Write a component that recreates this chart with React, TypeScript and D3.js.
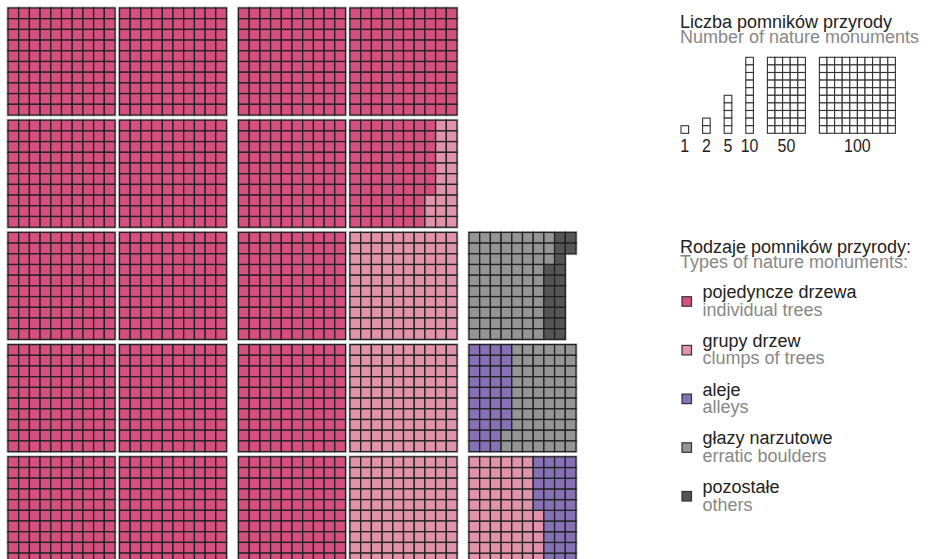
import React, { useEffect, useRef } from "react";
import * as d3 from "d3";

// monument types (PL / EN), counts and colours
const typesPl = ["pojedyncze drzewa", "grupy drzew", "aleje", "głazy narzutowe", "pozostałe"];
const typesEn = ["individual trees", "clumps of trees", "alleys", "erratic boulders", "others"];
const typeCounts = [1677, 388, 73, 135, 19];
const typeColors = ["#d6507f", "#e093ab", "#8670b6", "#959595", "#555555"];

// size legend
const scaleValues = [1, 2, 5, 10, 50, 100];

// order in which the 10x10 blocks are filled, as [block column, block row]
const blockOrder: [number, number][] = [
  ...d3.range(4).flatMap(c => d3.range(5).map(r => [c, r] as [number, number])),
  [4, 4], [4, 3], [4, 2],
];
// blocks whose columns are filled from the bottom up
const bottomUpBlocks = ["4-4"];

const font = "'Liberation Sans', Arial, sans-serif";

const App: React.FC = () => {
  const svgRef = useRef<SVGSVGElement | null>(null);

  useEffect(() => {
    const width = 929, height = 559;
    const svg = d3.select(svgRef.current).attr("width", width).attr("height", height);
    svg.selectAll("*").remove();

    // ---- waffle ----
    const g = svg.append("g").attr("transform", "translate(8,8)");

    const groupX = d3.scaleBand<number>()
      .domain([0, 1, 2])
      .range([0, 3 * 230.5 - 12])
      .paddingInner(12 / 230.5);
    const innerX = d3.scaleBand<number>()
      .domain([0, 1])
      .range([0, groupX.bandwidth()])
      .paddingInner(4.5 / 111.5);
    const blockX = (c: number) => groupX(Math.floor(c / 2))! + innerX(c % 2)!;
    const blockY = d3.scaleBand<number>()
      .domain(d3.range(5))
      .range([0, 5 * 112.2 - 5.2])
      .paddingInner(5.2 / 112.2);
    const cell = d3.scaleLinear().domain([0, 10]).range([0, blockY.bandwidth()]);
    const cs = cell(1);

    const cells = typeCounts
      .flatMap((n, t) => d3.range(n).map(() => t))
      .map((t, k) => {
        const [bc, br] = blockOrder[Math.floor(k / 100)];
        const i = k % 100;
        const col = Math.floor(i / 10);
        let row = i % 10;
        if (bottomUpBlocks.includes(`${bc}-${br}`)) row = 9 - row;
        return { t, x: blockX(bc) + cell(col), y: blockY(br)! + cell(row) };
      });

    g.append("g").selectAll("rect").data(cells).join("rect")
      .attr("x", d => d.x).attr("y", d => d.y)
      .attr("width", cs).attr("height", cs)
      .attr("fill", "none").attr("stroke", "#c8c8c8").attr("stroke-width", 3);

    g.append("g").selectAll("rect").data(cells).join("rect")
      .attr("x", d => d.x).attr("y", d => d.y)
      .attr("width", cs).attr("height", cs)
      .attr("fill", d => typeColors[d.t])
      .attr("stroke", "#222").attr("stroke-width", 1.3);

    // ---- size legend ----
    const lg = svg.append("g");
    lg.append("text").attr("x", 680).attr("y", 27.5)
      .attr("font-family", font).attr("font-size", 18).attr("fill", "#222")
      .text("Liczba pomników przyrody");
    lg.append("text").attr("x", 680).attr("y", 42.5)
      .attr("font-family", font).attr("font-size", 18).attr("fill", "#888")
      .text("Number of nature monuments");

    const lcs = 7.6, lgap = 14, lbottom = 133.3;
    const widths = scaleValues.map(n => Math.ceil(n / 10) * lcs);
    const starts = widths.map((_, i) => 681 + d3.sum(widths.slice(0, i)) + i * lgap);

    scaleValues.forEach((n, j) => {
      const rows = Math.min(n, 10);
      const item = lg.append("g");
      item.selectAll("rect").data(d3.range(n)).join("rect")
        .attr("x", i => starts[j] + Math.floor(i / 10) * lcs)
        .attr("y", i => lbottom - (rows - (i % 10)) * lcs)
        .attr("width", lcs).attr("height", lcs)
        .attr("fill", "#fff").attr("stroke", "#333").attr("stroke-width", 1.1);
      item.append("text")
        .attr("transform", `translate(${starts[j] + widths[j] / 2},151.5) scale(0.84,1)`)
        .attr("text-anchor", "middle")
        .attr("font-family", font).attr("font-size", 19).attr("fill", "#222")
        .text(n);
    });

    // ---- type legend ----
    const tg = svg.append("g");
    tg.append("text").attr("x", 680).attr("y", 252.7)
      .attr("font-family", font).attr("font-size", 18).attr("fill", "#222")
      .text("Rodzaje pomników przyrody:");
    tg.append("text").attr("x", 680).attr("y", 267.7)
      .attr("font-family", font).attr("font-size", 18).attr("fill", "#888")
      .text("Types of nature monuments:");

    const itemY = d3.scaleLinear().domain([0, 1]).range([296.7, 345.4]);
    typesPl.forEach((label, i) => {
      const y0 = itemY(i);
      tg.append("rect").attr("x", 682).attr("y", y0).attr("width", 9.5).attr("height", 9.5)
        .attr("fill", typeColors[i]).attr("stroke", "#333").attr("stroke-width", 1.2);
      tg.append("text").attr("x", 702.5).attr("y", y0 + 1.5)
        .attr("font-family", font).attr("font-size", 18).attr("fill", "#222")
        .text(label);
      tg.append("text").attr("x", 702.5).attr("y", y0 + 19)
        .attr("font-family", font).attr("font-size", 18).attr("fill", "#888")
        .text(typesEn[i]);
    });
  }, []);

  return <svg ref={svgRef} style={{ position: "absolute", left: 0, top: 0, display: "block" }}></svg>;
};

export default App;
